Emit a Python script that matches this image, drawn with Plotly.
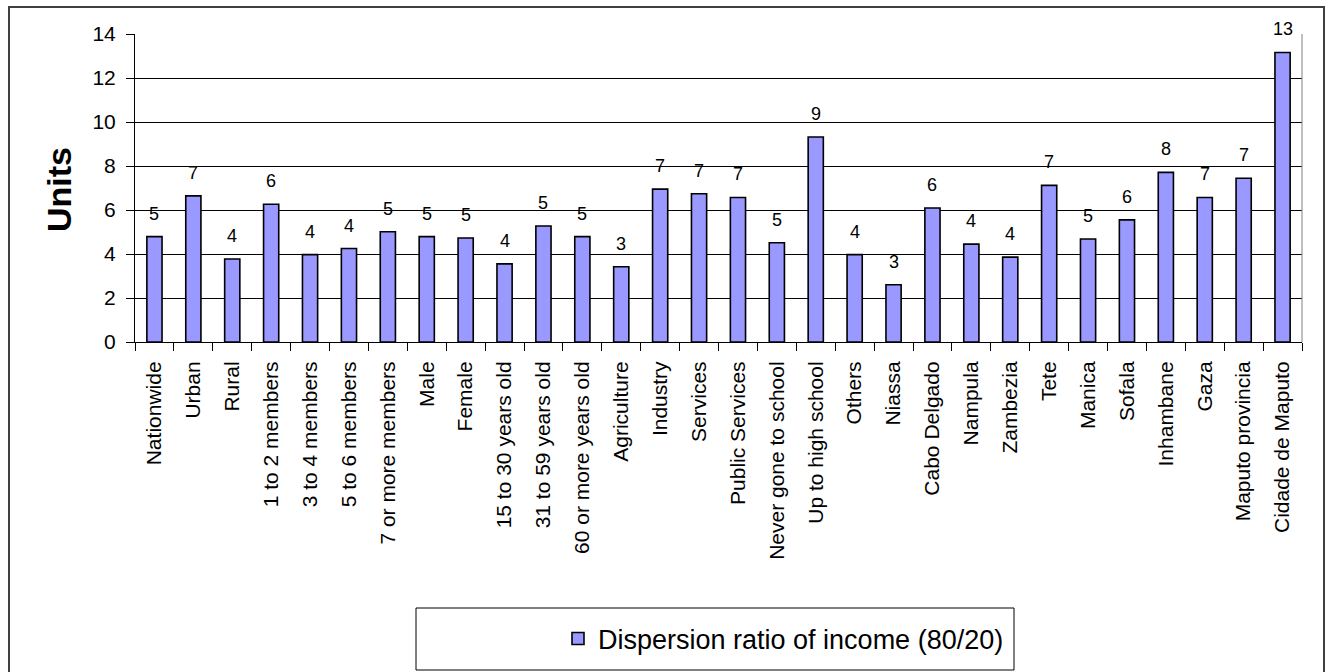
import plotly.graph_objects as go

categories = [
    "Nationwide", "Urban", "Rural", "1 to 2 members", "3 to 4 members",
    "5 to 6 members", "7 or more members", "Male", "Female",
    "15 to 30 years old", "31 to 59 years old", "60 or more years old",
    "Agriculture", "Industry", "Services", "Public Services",
    "Never gone to school", "Up to high school", "Others", "Niassa",
    "Cabo Delgado", "Nampula", "Zambezia", "Tete", "Manica", "Sofala",
    "Inhambane", "Gaza", "Maputo provincia", "Cidade de Maputo",
]
values = [
    4.79, 6.64, 3.77, 6.26, 3.97, 4.25, 5.01, 4.79, 4.73, 3.55,
    5.27, 4.79, 3.42, 6.95, 6.74, 6.57, 4.51, 9.32, 3.97, 2.60,
    6.09, 4.45, 3.86, 7.12, 4.68, 5.55, 7.71, 6.57, 7.44, 13.16,
]
y_ticks = [0, 2, 4, 6, 8, 10, 12, 14]
series_name = "Dispersion ratio of income (80/20)"
y_title = "Units"

W, H = 1331, 672
ML, MR, MT, MB = 135, 29, 34, 330
PW, PH = W - ML - MR, H - MT - MB
FONT = "Arial, Liberation Sans, sans-serif"


def px_x(p):
    return (p - ML) / PW


def px_y(p):
    return (H - MB - p) / PH


fig = go.Figure()
fig.add_trace(go.Bar(
    x=categories, y=values, name=series_name,
    marker=dict(color="#9999FF", line=dict(color="#000000", width=1.6)),
    showlegend=True,
))

annotations = []
for c, v in zip(categories, values):
    annotations.append(dict(
        x=c, y=v, xref="x", yref="y", text=f"{round(v):d}",
        showarrow=False, yanchor="bottom", yshift=11,
        font=dict(family=FONT, size=18, color="#000000"),
    ))

annotations.append(dict(
    x=px_x(59), y=px_y(190), xref="paper", yref="paper",
    text=f"<b>{y_title}</b>", textangle=-90, showarrow=False,
    font=dict(family=FONT, size=34, color="#000000"),
    xanchor="center", yanchor="middle",
))

shapes = [
    # outer chart frame
    dict(type="rect", xref="paper", yref="paper",
         x0=px_x(9), x1=px_x(1324), y0=px_y(690), y1=px_y(7),
         line=dict(color="#404040", width=2), layer="below"),
    # plot area right border
    dict(type="line", xref="paper", yref="paper",
         x0=1, x1=1, y0=0, y1=1, line=dict(color="#808080", width=1)),
    # legend box
    dict(type="rect", xref="paper", yref="paper",
         x0=px_x(416), x1=px_x(1014), y0=px_y(670), y1=px_y(608),
         line=dict(color="#000000", width=1)),
]

fig.update_layout(
    width=W, height=H,
    margin=dict(l=ML, r=MR, t=MT, b=MB, autoexpand=False),
    paper_bgcolor="white", plot_bgcolor="white",
    bargap=0.61,
    font=dict(family=FONT, color="#000000"),
    showlegend=True,
    legend=dict(
        x=px_x(558), y=px_y(639), xanchor="left", yanchor="middle",
        font=dict(family=FONT, size=27, color="#000000"),
        bgcolor="rgba(0,0,0,0)", borderwidth=0,
    ),
    annotations=annotations,
    shapes=shapes,
)

fig.update_xaxes(
    type="category", tickangle=-90,
    showline=True, linecolor="#000000", linewidth=1,
    ticks="outside", tickson="boundaries", ticklen=8,
    tickcolor="#000000", tickwidth=1,
    tickfont=dict(family=FONT, size=21, color="#000000"),
    ticklabelstandoff=10,
    showgrid=False, automargin=False,
)
fig.update_yaxes(
    range=[0, 14], tickvals=y_ticks,
    showline=True, linecolor="#000000", linewidth=1,
    ticks="outside", ticklen=8, tickcolor="#000000", tickwidth=1,
    tickfont=dict(family=FONT, size=21, color="#000000"),
    ticklabelstandoff=6,
    showgrid=True, gridcolor="#000000", gridwidth=1,
    zeroline=False, automargin=False,
)

fig.write_html("out.html")
